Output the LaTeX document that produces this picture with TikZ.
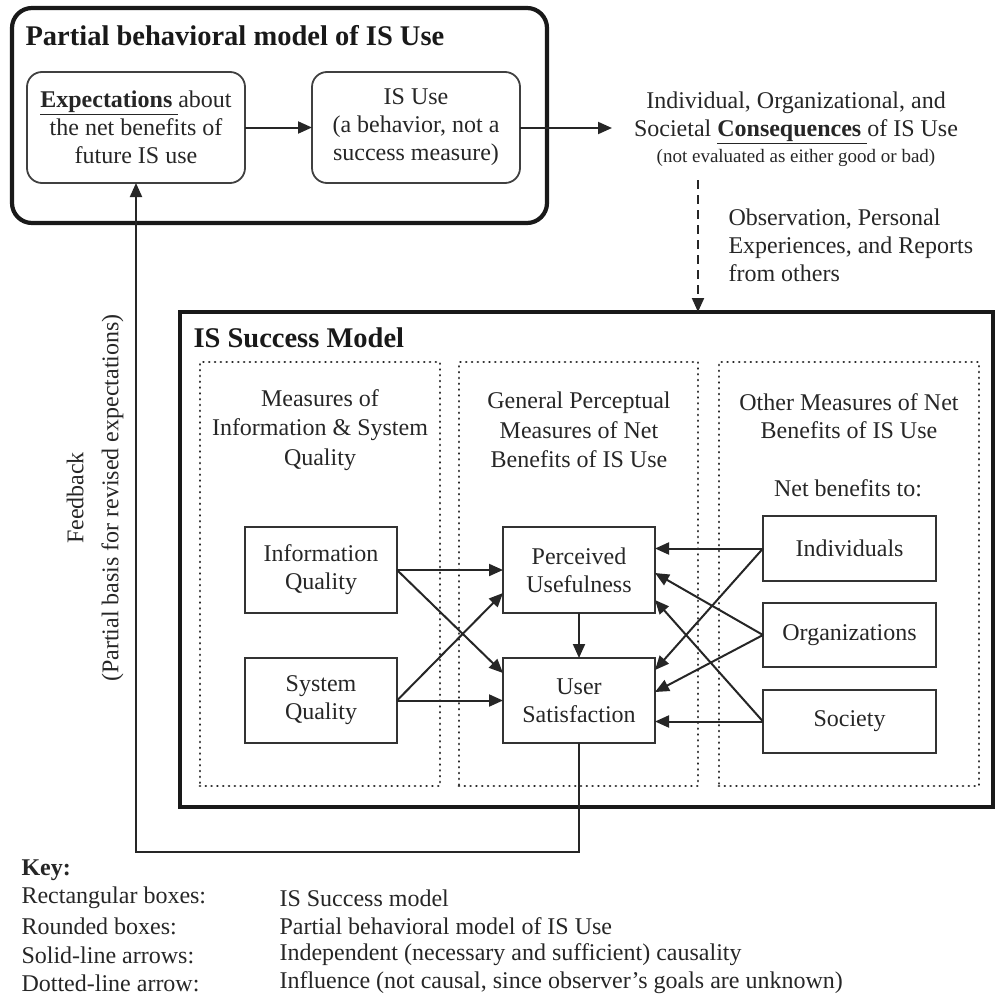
\documentclass[tikz,border=0pt]{standalone}
\usepackage{fontspec}
\setmainfont{Liberation Serif}
\usetikzlibrary{arrows.meta}
\begin{document}
\begin{tikzpicture}[x=1pt,y=-1pt,
  body/.style={font=\fontsize{24}{28}\selectfont, text=black!85},
  heading/.style={font=\fontsize{28.5}{32}\selectfont\bfseries, text=black!90},
  frame/.style={draw=black!90, line width=4.2pt, inner sep=0pt, outer sep=0pt},
  roundbox/.style={draw=black!75, line width=1.8pt, rounded corners=15pt, inner sep=0pt, outer sep=0pt, body, align=center},
  rectbox/.style={draw=black!80, line width=2pt, inner sep=0pt, outer sep=0pt, body, align=center},
  group/.style={draw=black!85, line width=2.8pt, dash pattern=on 0.01pt off 5.8pt, line cap=round, inner sep=0pt, outer sep=0pt},
  arr/.style={draw=black!85, line width=2pt, -{Triangle[length=14pt,width=12pt]}},
  dasharr/.style={arr, dash pattern=on 9pt off 6pt},
]
\useasboundingbox (0,0) rectangle (995,998);

% ---------- partial behavioral model ----------
\node[frame, rounded corners=20pt, minimum width=535pt, minimum height=215pt] (pbm) at (279.5,115.5) {};
\node[heading, anchor=base west] (pbmtitle) at (22,46) {Partial behavioral model of IS Use};
\node[roundbox, minimum width=218pt, minimum height=111pt] (exp) at (136,127.5)
  {\underline{\textbf{Expectations}\ }about\\the net benefits of\\future IS use};
\node[roundbox, minimum width=208pt, minimum height=111pt] (isuse) at (416,127.5)
  {IS Use\\(a behavior, not a\\success measure)};
\draw[arr] (exp.east) -- (isuse.west);

% ---------- consequences ----------
\node[body, align=center] (cons) at (796,129)
  {Individual, Organizational, and\\Societal \underline{\textbf{Consequences}\ }of IS Use\\[-2pt]{\fontsize{19}{22}\selectfont (not evaluated as either good or bad)}};
\coordinate (consin) at (612,128);
\draw[arr] (isuse.east |- consin) -- (consin);

\node[body, align=left, anchor=west] (obs) at (725,245)
  {Observation, Personal\\Experiences, and Reports\\from others};

% ---------- IS success model ----------
\node[frame, minimum width=813pt, minimum height=495pt] (succ) at (586.5,559.5) {};
\node[heading, anchor=base west] (succtitle) at (190,347) {IS Success Model};

\coordinate (obsstart) at (698,180);
\draw[dasharr] (obsstart) -- (obsstart |- succ.north);

\node[group, minimum width=240pt, minimum height=424pt] (g1) at (320,574) {};
\node[group, minimum width=239pt, minimum height=424pt] (g2) at (578.5,574) {};
\node[group, minimum width=260pt, minimum height=424pt] (g3) at (849,574) {};

\node[body, align=center, font=\fontsize{24}{29.5}\selectfont] (h1) at (320,430)
  {Measures of\\Information \& System\\Quality};
\node[body, align=center, font=\fontsize{24}{29.5}\selectfont] (h2) at (579,430)
  {General Perceptual\\Measures of Net\\Benefits of IS Use};
\node[body, align=center] (h3) at (849,416)
  {Other Measures of Net\\Benefits of IS Use};
\node[body] (nbto) at (848,488) {Net benefits to:};

\node[rectbox, minimum width=152pt, minimum height=86pt] (iq) at (321,570) {Information\\Quality};
\node[rectbox, minimum width=152pt, minimum height=86pt] (pu) at (579,570) {Perceived\\Usefulness};
\node[rectbox, minimum width=152pt, minimum height=85pt] (sq) at (321,700.5) {System\\Quality};
\node[rectbox, minimum width=152pt, minimum height=85pt] (us) at (579,700.5) {User\\Satisfaction};

\node[rectbox, minimum width=173pt, minimum height=65pt] (ind) at (849.5,548.5) {Individuals};
\node[rectbox, minimum width=173pt, minimum height=64pt] (org) at (849.5,635) {Organizations};
\node[rectbox, minimum width=173pt, minimum height=63pt] (soc) at (849.5,721.5) {Society};

% quality measures -> perceptual measures
\draw[arr] (iq.east) -- (pu.west);
\draw[arr] (iq.east) -- (us.west |- 0,673);
\draw[arr] (sq.east) -- (pu.west |- 0,593);
\draw[arr] (sq.east) -- (us.west);
\draw[arr] (pu.south) -- (us.north);

% net benefits -> perceptual measures
\draw[arr] (ind.west) -- (pu.east |- ind.west);
\draw[arr] (ind.west) -- (us.east |- 0,670);
\draw[arr] (org.west) -- (pu.east |- 0,573);
\draw[arr] (org.west) -- (us.east |- 0,692);
\draw[arr] (soc.west) -- (pu.east |- 0,600);
\draw[arr] (soc.west) -- (us.east |- soc.west);

% feedback loop
\coordinate (fbcorner) at (136,852);
\draw[arr] (us.south) |- (fbcorner) -- (exp.south);
\node[body, rotate=90, align=center] (fbtext) at (95,498)
  {Feedback\\[7pt](Partial basis for revised expectations)};

% ---------- key ----------
\node[body, font=\fontsize{24}{28}\selectfont\bfseries, anchor=west] (key) at (18,870) {Key:};
\node[body, anchor=west] (k1) at (18,898) {Rectangular boxes:};
\node[body, anchor=west] (k2) at (18,926.5) {Rounded boxes:};
\node[body, anchor=west] (k3) at (18,955) {Solid-line arrows:};
\node[body, anchor=west] (k4) at (18,983) {Dotted-line arrow:};
\node[body, anchor=west] (v1) at (276,898) {IS Success model};
\node[body, anchor=west] (v2) at (276,926.5) {Partial behavioral model of IS Use};
\node[body, anchor=west] (v3) at (276,955) {Independent (necessary and sufficient) causality};
\node[body, anchor=west] (v4) at (276,983) {Influence (not causal, since observer’s goals are unknown)};
\end{tikzpicture}
\end{document}
